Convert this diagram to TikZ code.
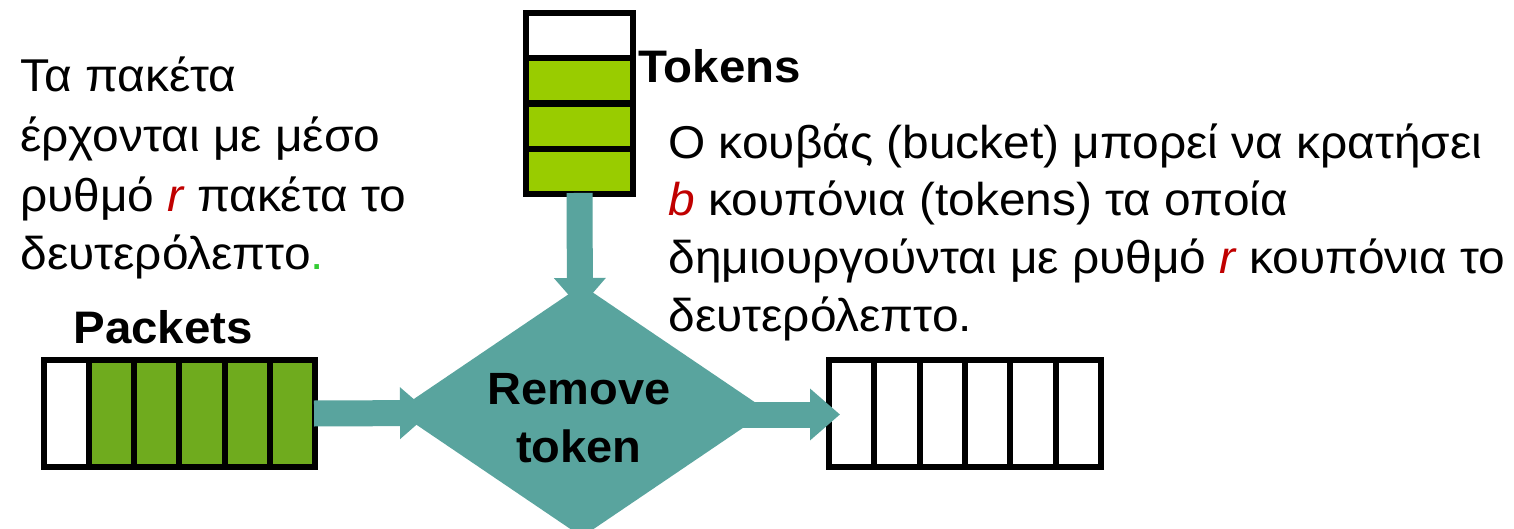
\documentclass[tikz,border=0pt]{standalone}
\usepackage{fontspec}
\setmainfont{Liberation Sans}[FakeStretch=1.04]
\usetikzlibrary{shapes.geometric,arrows.meta}
\definecolor{teal1}{RGB}{89,164,158}
\definecolor{pktgreen}{RGB}{111,171,30}
\definecolor{tokgreen}{RGB}{153,204,0}
\definecolor{rred}{RGB}{192,0,0}
\definecolor{dotgreen}{RGB}{51,204,51}
\begin{document}
\begin{tikzpicture}[x=0.5pt,y=-0.5pt,
  txt/.style={anchor=base west, inner sep=0pt, font=\fontsize{23}{27}\selectfont},
  lbl/.style={anchor=base west, inner sep=0pt, font=\fontsize{22.8}{27}\selectfont\bfseries},
  vcell/.style={draw, line width=3pt, inner sep=0pt, minimum width=22.6pt, minimum height=53.2pt},
  hcell/.style={draw, line width=3pt, inner sep=0pt, minimum width=53.5pt, minimum height=22.6pt},
  blockarrow/.style={draw=teal1, line width=13pt, -{Triangle[length=15pt,width=25pt,fill=teal1,color=teal1]}},
]
\clip (0,0) rectangle (1514,529);
\fill[white] (0,0) rectangle (1514,529);

% diamond
\node[diamond, fill=teal1, minimum width=186pt, minimum height=126pt, inner sep=0pt] (dm) at (582,411) {};
\node[align=center, inner sep=0pt, font=\fontsize{22.6}{29}\selectfont\bfseries] (rmv) at (579,418) {Remove\\token};

% packet queue
\foreach \i in {1,...,6} {
  \pgfmathsetmacro{\cx}{44+45.17*(\i-0.5)}
  \ifnum\i=1
    \node[vcell, fill=white] (p\i) at (\cx,413.5) {};
  \else
    \node[vcell, fill=pktgreen] (p\i) at (\cx,413.5) {};
  \fi
}
% output queue
\foreach \i in {1,...,6} {
  \pgfmathsetmacro{\cx}{829+45.33*(\i-0.5)}
  \node[vcell, fill=white] (o\i) at (\cx,413.5) {};
}
% token stack
\foreach \i in {1,...,4} {
  \pgfmathsetmacro{\cy}{13+45.25*(\i-0.5)}
  \ifnum\i=1
    \node[hcell, fill=white] (t\i) at (579.5,\cy) {};
  \else
    \node[hcell, fill=tokgreen] (t\i) at (579.5,\cy) {};
  \fi
}

% arrows
\coordinate (a1) at (430,413);
\coordinate (a2) at (580,308);
\coordinate (a3s) at (723,414.5);
\coordinate (a3) at (840,414.5);
\draw[blockarrow] ([xshift=-2pt]p6.east) -- (a1);
\draw[blockarrow] ([yshift=2pt]t4.south) -- (a2);
\draw[blockarrow] (a3s) -- (a3);

% labels
\node[lbl] (pk) at (73,343) {Packets};
\node[lbl] (tk) at (638,83) {Tokens};

% left text
\node[txt] (l1) at (20,92) {Τα πακέτα};
\node[txt] (l2) at (20,152) {έρχονται με μέσο};
\node[txt] (l3) at (20,212) {ρυθμό {\color{rred}\itshape r} πακέτα το};
\node[txt] (l4) at (20,270) {δευτερόλεπτο{\color{dotgreen}.}};

% right text
\node[txt] (r1) at (668,158.5) {Ο κουβάς (bucket) μπορεί να κρατήσει};
\node[txt] (r2) at (668,216) {{\color{rred}\itshape b} κουπόνια (tokens) τα οποία};
\node[txt] (r3) at (668,273.5) {δημιουργούνται με ρυθμό {\color{rred}\itshape r} κουπόνια το};
\node[txt] (r4) at (668,331) {δευτερόλεπτο.};
\end{tikzpicture}
\end{document}
